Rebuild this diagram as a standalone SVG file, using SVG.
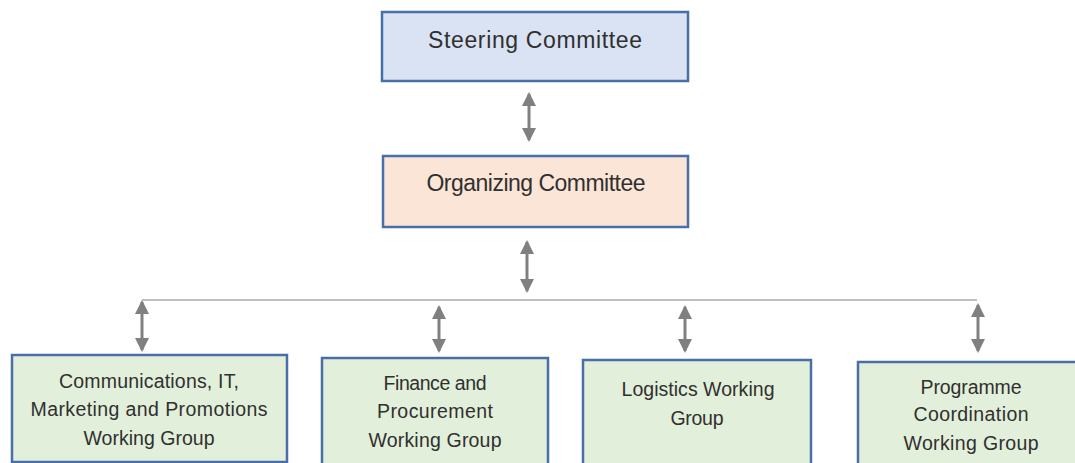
<svg xmlns="http://www.w3.org/2000/svg" width="1075" height="463" viewBox="0 0 1075 463">
<style>
.box{stroke:#4a6fa8;stroke-width:2.5}
.blue{fill:#dae3f3}
.peach{fill:#fbe5d6}
.green{fill:#e2efda}
.t{font-family:"Liberation Sans",Arial,sans-serif;fill:#303030;text-anchor:middle}
.big{font-size:23px}
.sm{font-size:19.5px}
.arr{stroke:#808080;stroke-width:3;fill:none;marker-start:url(#ah);marker-end:url(#ah)}
.bus{stroke:#bfbfbf;stroke-width:2;fill:none}
</style>
<defs>
<marker id="ah" markerUnits="userSpaceOnUse" viewBox="0 0 14 14" markerWidth="14" markerHeight="14" refX="12" refY="7" orient="auto-start-reverse">
<path d="M0,0 L14,7 L0,14 z" fill="#808080"/>
</marker>
</defs>
<rect width="1075" height="463" fill="#ffffff"/>
<g id="connectors">
<path class="bus" d="M142,300 H977"/>
<path class="arr" d="M529,94 V140"/>
<path class="arr" d="M527,242 V291"/>
<path class="arr" d="M142,302 V350"/>
<path class="arr" d="M439,307 V351"/>
<path class="arr" d="M685,307 V351"/>
<path class="arr" d="M978,305 V351"/>
</g>
<g id="steering">
<rect class="box blue" x="382" y="12" width="306" height="69"/>
<text class="t big" x="535" y="48" textLength="214">Steering Committee</text>
</g>
<g id="organizing">
<rect class="box peach" x="383" y="156" width="305" height="71"/>
<text class="t big" x="536" y="191" textLength="219">Organizing Committee</text>
</g>
<g id="comms">
<rect class="box green" x="12" y="355" width="275" height="107"/>
<text class="t sm" x="149" y="388" textLength="180">Communications, IT,</text>
<text class="t sm" x="149" y="416" textLength="237">Marketing and Promotions</text>
<text class="t sm" x="149" y="445" textLength="131">Working Group</text>
</g>
<g id="finance">
<rect class="box green" x="322" y="358" width="226" height="112"/>
<text class="t sm" x="435" y="390" textLength="103">Finance and</text>
<text class="t sm" x="435" y="418" textLength="116">Procurement</text>
<text class="t sm" x="435" y="447" textLength="133">Working Group</text>
</g>
<g id="logistics">
<rect class="box green" x="583" y="360" width="228" height="110"/>
<text class="t sm" x="698" y="396" textLength="153">Logistics Working</text>
<text class="t sm" x="697" y="425" textLength="53">Group</text>
</g>
<g id="programme">
<rect class="box green" x="858" y="362" width="230" height="110"/>
<text class="t sm" x="971" y="394" textLength="101">Programme</text>
<text class="t sm" x="971" y="421" textLength="115">Coordination</text>
<text class="t sm" x="971" y="450" textLength="135">Working Group</text>
</g>
</svg>
